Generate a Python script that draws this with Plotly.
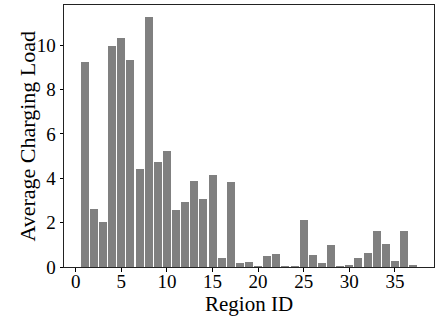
import plotly.graph_objects as go

region_ids = list(range(1, 38))
avg_load = [9.25, 2.62, 2.05, 9.97, 10.33, 9.34, 4.42, 11.25, 4.74, 5.23,
            2.57, 2.95, 3.88, 3.07, 4.15, 0.42, 3.83, 0.18, 0.23, 0.03,
            0.50, 0.59, 0.02, 0.02, 2.12, 0.54, 0.18, 0.99, 0.02, 0.08,
            0.41, 0.63, 1.62, 1.04, 0.27, 1.62, 0.08]
x_ticks = [0, 5, 10, 15, 20, 25, 30, 35]
y_ticks = [0, 2, 4, 6, 8, 10]

font_family = "Liberation Serif"

fig = go.Figure(go.Bar(
    x=region_ids, y=avg_load, width=0.88,
    marker=dict(color="#808080", line=dict(width=0)),
))

ymax = max(avg_load) * 1.05
span = (region_ids[-1] + 0.44) - (region_ids[0] - 0.44)
xlo = region_ids[0] - 0.44 - 0.05 * span
xhi = region_ids[-1] + 0.44 + 0.05 * span

fig.update_layout(
    width=443, height=316,
    margin=dict(l=64, r=9, t=5, b=49, autoexpand=False),
    plot_bgcolor="white", paper_bgcolor="white",
    font=dict(family=font_family, color="black", size=19),
    showlegend=False,
    bargap=0,
    annotations=[
        dict(text="Region ID", x=0.5, xref="paper", y=0, yref="paper",
             xanchor="center", yanchor="top", yshift=-23, showarrow=False,
             font=dict(size=21, family=font_family)),
        dict(text="Average Charging Load", x=0, xref="paper", y=0.5, yref="paper",
             xanchor="right", yanchor="middle", xshift=-23, textangle=-90,
             showarrow=False, font=dict(size=22, family=font_family)),
    ],
)
fig.update_xaxes(
    range=[xlo, xhi], tickvals=x_ticks, ticks="outside", ticklen=3.5, tickwidth=1,
    tickcolor="black", showline=True, linecolor="#222", linewidth=1, mirror=True,
    showgrid=False, zeroline=False, tickfont=dict(size=19, family=font_family),
    automargin=False, ticklabelstandoff=-6,
)
fig.update_yaxes(
    range=[0, ymax], tickvals=y_ticks, ticks="outside", ticklen=3.5, tickwidth=1,
    tickcolor="black", showline=True, linecolor="#222", linewidth=1, mirror=True,
    showgrid=False, zeroline=False, tickfont=dict(size=19, family=font_family),
    automargin=False, ticklabelstandoff=0,
)

fig.write_html(
    "out.html",
    config={"displayModeBar": False},
    post_script="document.body.style.margin='0';document.body.style.overflow='hidden';",
)
